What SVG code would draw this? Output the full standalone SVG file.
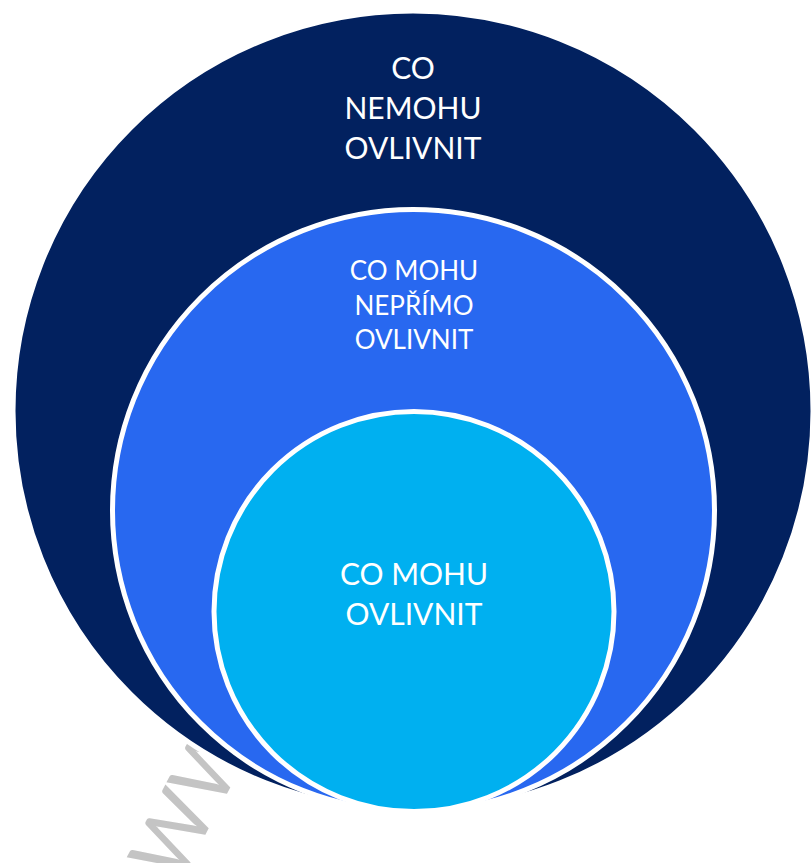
<svg xmlns="http://www.w3.org/2000/svg" width="811" height="863" viewBox="0 0 811 863">
  <style>
    .ring { stroke: #ffffff; stroke-width: 5; }
    .lbl { font-family: Lato, "Liberation Sans", sans-serif; fill: #ffffff; text-anchor: middle; }
    .big { font-size: 30px; }
    .mid { font-size: 26px; }
    .wm { font-family: Lato, "Liberation Sans", sans-serif; font-weight: 400; font-size: 82px; fill: #c4c4c4; }
  </style>
  <rect width="811" height="863" fill="#ffffff"/>
  <text class="wm" transform="translate(178 886) rotate(-62)">WW</text>
  <g id="outer">
    <circle class="ring" cx="413" cy="411" r="400" fill="#02215f"/>
    <text class="lbl big" x="413" y="79">CO</text>
    <text class="lbl big" x="413" y="119">NEMOHU</text>
    <text class="lbl big" x="413" y="159">OVLIVNIT</text>
  </g>
  <g id="middle">
    <circle class="ring" cx="413.5" cy="510.5" r="301" fill="#2868f0"/>
    <text class="lbl mid" x="414" y="280">CO MOHU</text>
    <text class="lbl mid" x="414" y="315">NEPŘÍMO</text>
    <text class="lbl mid" x="414" y="349">OVLIVNIT</text>
  </g>
  <g id="inner">
    <circle class="ring" cx="414" cy="611.5" r="200" fill="#00b0f0"/>
    <text class="lbl big" x="414" y="585">CO MOHU</text>
    <text class="lbl big" x="414" y="625">OVLIVNIT</text>
  </g>
  <g id="connectors"/>
</svg>
